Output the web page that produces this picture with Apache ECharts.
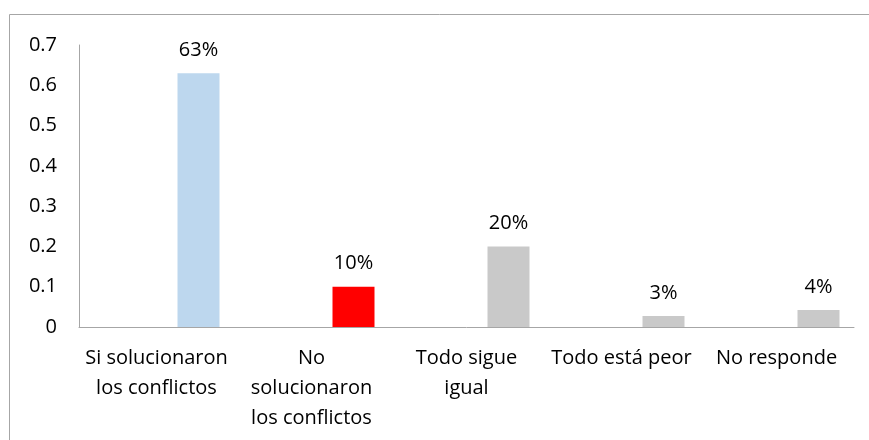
<!DOCTYPE html>
<html lang="es" style="height: 100%">
<head>
    <meta charset="utf-8">
    <title>Conflictos</title>
    <script src="https://cdn.jsdelivr.net/npm/echarts@6/dist/echarts.min.js"></script>
</head>
<body style="height: 100%; margin: 0; background: #fff">
    <div id="main" style="width: 869px; height: 440px"></div>
    <script type="text/javascript">
        // datos
        var categorias = ['Si solucionaron\nlos conflictos', 'No\nsolucionaron\nlos conflictos', 'Todo sigue\nigual', 'Todo está peor', 'No responde'];
        var valores = [0.63, 0.10, 0.20, 0.027, 0.042];
        var colores = ['#BDD7EE', '#FF0000', '#C9C9C9', '#C9C9C9', '#C9C9C9'];
        var ticksY = [0, 0.1, 0.2, 0.3, 0.4, 0.5, 0.6, 0.7];

        var fuente = 'Open Sans';
        var myChart = echarts.init(document.getElementById('main'));

        var option = {
            animation: false,
            textStyle: { fontFamily: fuente },
            grid: { left: 79, right: 15, top: 45, bottom: 113, containLabel: false },
            // marco (solo se ven arriba e izquierda)
            graphic: [{
                type: 'rect',
                shape: { x: 9.5, y: 14.5, width: 950, height: 500 },
                style: { fill: 'none', stroke: '#A6A6A6', lineWidth: 1 },
                silent: true
            }],
            xAxis: {
                type: 'category',
                data: categorias,
                axisLine: { lineStyle: { color: '#A6A6A6', width: 1 } },
                axisTick: { show: false },
                axisLabel: { color: '#000', fontSize: 20, lineHeight: 30, margin: 16, interval: 0 }
            },
            yAxis: {
                type: 'value',
                min: 0,
                max: ticksY[ticksY.length - 1],
                interval: 0.1,
                splitLine: { show: false },
                axisLine: { show: true, lineStyle: { color: '#A6A6A6', width: 1 } },
                axisTick: { show: false },
                axisLabel: {
                    color: '#000', fontSize: 20, margin: 22,
                    formatter: function (v) { return String(Math.round(v * 10) / 10); }
                }
            },
            series: [
                {
                    // serie vacía para desplazar las barras a la derecha
                    type: 'bar',
                    barWidth: 42,
                    barGap: '100%',
                    data: categorias.map(function () { return null; })
                },
                {
                    type: 'bar',
                    barWidth: 42,
                    barGap: '100%',
                    data: valores.map(function (v, i) {
                        return { value: v, itemStyle: { color: colores[i] } };
                    }),
                    label: {
                        show: true,
                        position: 'top',
                        distance: 13,
                        color: '#000',
                        fontSize: 20,
                        formatter: function (p) { return Math.round(p.value * 100) + '%'; }
                    }
                }
            ]
        };

        myChart.setOption(option);
    </script>
</body>
</html>
